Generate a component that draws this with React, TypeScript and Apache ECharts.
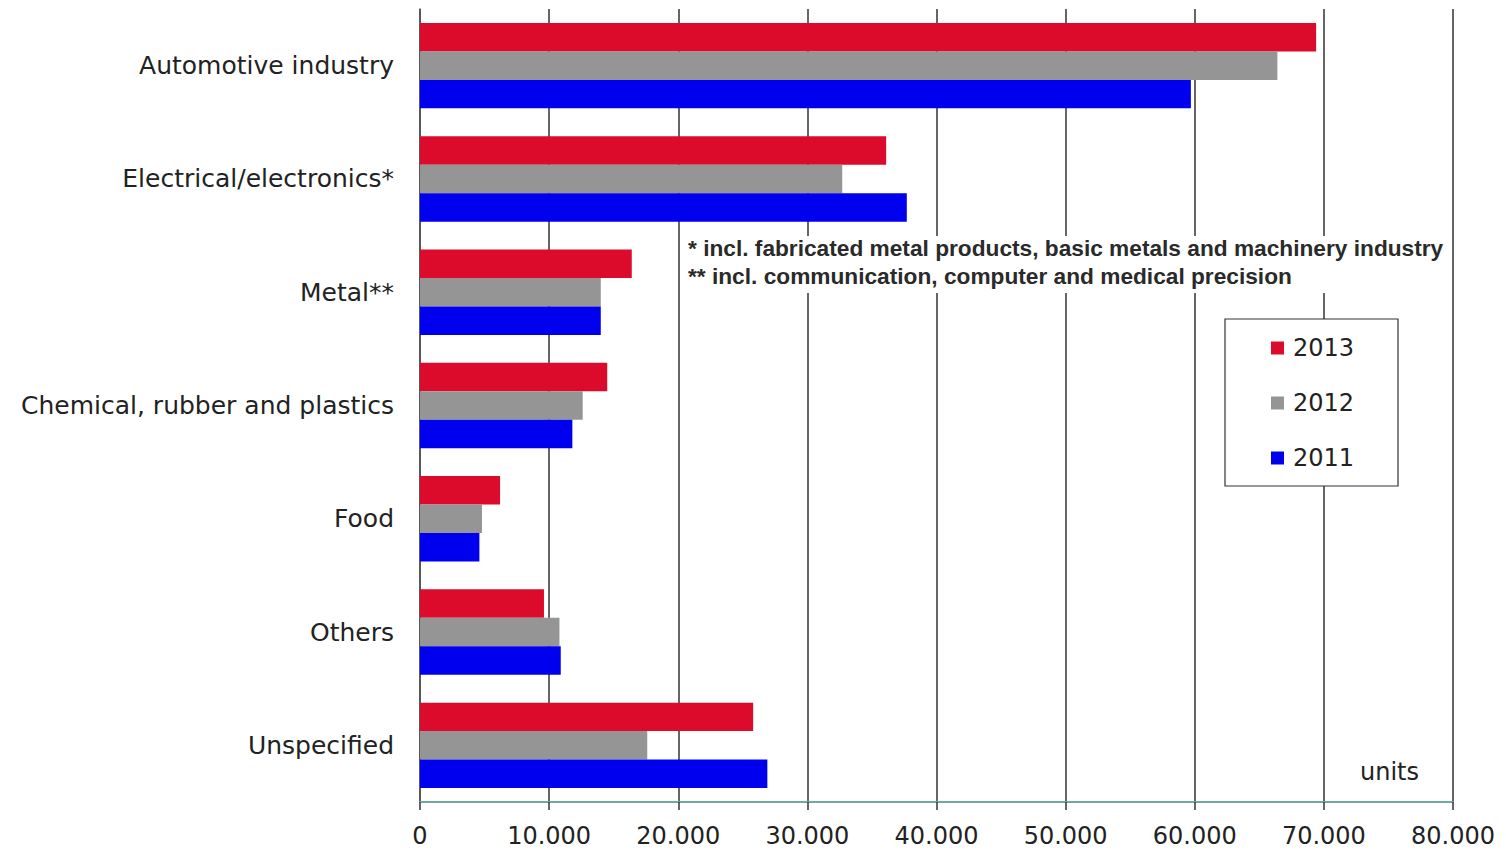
import React, { useEffect, useRef } from "react";
import * as echarts from "echarts";

const categories = [
  "Automotive industry",
  "Electrical/electronics*",
  "Metal**",
  "Chemical, rubber and plastics",
  "Food",
  "Others",
  "Unspecified",
];
const years = ["2013", "2012", "2011"];
const values2013 = [69400, 36100, 16400, 14500, 6200, 9600, 25800];
const values2012 = [66400, 32700, 14000, 12600, 4800, 10800, 17600];
const values2011 = [59700, 37700, 14000, 11800, 4600, 10900, 26900];
const colors = ["#dc0a2b", "#959595", "#0000ee"];
const footnotes = [
  "* incl. fabricated metal products, basic metals and machinery industry",
  "** incl. communication, computer and medical precision",
];
const unitLabel = "units";

export default function App() {
  const ref = useRef<HTMLDivElement>(null);
  useEffect(() => {
    if (!ref.current) return;
    const chart = echarts.init(ref.current, null, { renderer: "svg" });
    const font = "DejaVu Sans";
    const seriesData = [values2013, values2012, values2011];
    chart.setOption({
      animation: false,
      textStyle: { fontFamily: font },
      grid: { left: 420, right: 53, top: 9, bottom: 50, containLabel: false },
      legend: {
        data: years,
        orient: "vertical",
        left: 1266,
        top: 331,
        icon: "rect",
        itemWidth: 13,
        itemHeight: 13,
        itemGap: 31,
        z: 20,
        textStyle: { fontSize: 24, color: "#222", fontFamily: font, padding: [0, 0, 0, 4] },
      },
      xAxis: {
        type: "value",
        min: 0,
        max: 80000,
        interval: 10000,
        axisLine: { show: true, lineStyle: { color: "#6fa9a0", width: 2 } },
        axisTick: { show: true, length: 8, lineStyle: { color: "#333", width: 1.5 } },
        splitLine: { show: true, lineStyle: { color: "#333", width: 1.5 } },
        axisLabel: {
          fontSize: 24,
          color: "#222",
          margin: 22,
          fontFamily: font,
          formatter: (v: number) =>
            v === 0 ? "0" : String(v).replace(/\B(?=(\d{3})+(?!\d))/g, "."),
        },
      },
      yAxis: {
        type: "category",
        data: categories,
        inverse: true,
        axisLine: { show: true, lineStyle: { color: "#555", width: 1.5 } },
        axisTick: { show: false },
        axisLabel: { fontSize: 25, color: "#222", margin: 26, fontFamily: font },
      },
      series: years.map((y, i) => ({
        name: y,
        type: "bar",
        data: seriesData[i],
        barGap: "0%",
        barCategoryGap: "24.6%",
        itemStyle: { color: colors[i] },
        z: 3,
      })),
      graphic: [
        {
          type: "rect",
          shape: { x: 684, y: 236, width: 766, height: 57 },
          style: { fill: "#fff" },
          z: 9,
        },
        {
          type: "rect",
          shape: { x: 1225, y: 319, width: 173, height: 167 },
          style: { fill: "#fff", stroke: "#333", lineWidth: 1.2 },
          z: 10,
        },
        {
          type: "text",
          x: 688,
          y: 234,
          style: {
            text: footnotes.join("\n"),
            font: `bold 22.7px "Liberation Sans"`,
            fill: "#2a2a2a",
            lineHeight: 28,
          },
          z: 10,
        },
        {
          type: "text",
          x: 1360,
          y: 760,
          style: { text: unitLabel, font: `24px "${font}"`, fill: "#222" },
          z: 10,
        },
      ],
    });
    return () => chart.dispose();
  }, []);
  return <div ref={ref} style={{ width: 1506, height: 852, margin: -8 }} />;
}
